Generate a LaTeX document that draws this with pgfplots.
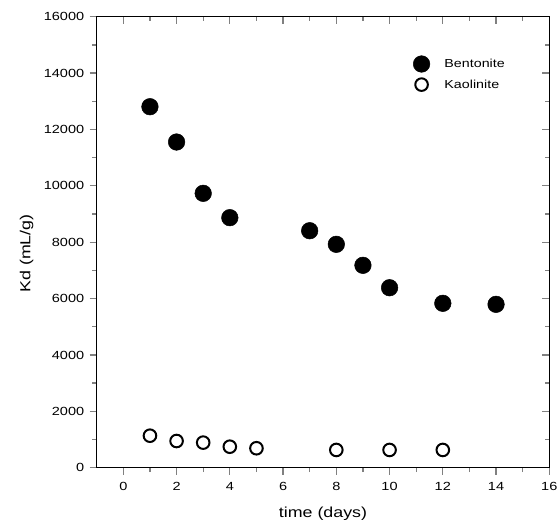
\documentclass[border=0pt]{standalone}
\usepackage{pgfplots}
\pgfplotsset{compat=1.18}
\usepackage{fontspec}
\setmainfont{Liberation Sans}[FakeStretch=1.23]
\begin{document}
\begin{tikzpicture}
\path[use as bounding box] (-96.7bp,-58.3bp) rectangle (460.3bp,467.7bp);
\pgfplotsset{
  common/.style={
    width=452.6bp, height=451bp, scale only axis,
    at={(0,0)}, anchor=south west,
    xmin=-1, xmax=16, ymin=0, ymax=16000,
    xtick={0,2,...,16}, ytick={0,2000,...,16000},
    scaled ticks=false,
    minor x tick num=1, minor y tick num=1,
    axis line style={line width=1.3bp},
    major tick style={line width=1.3bp},
    minor tick style={line width=1.3bp},
    major tick length=7bp, minor tick length=4.5bp,
    /pgf/number format/assume math mode=true,
    /pgf/number format/1000 sep={},
    tick label style={font=\fontsize{11.8bp}{13bp}\selectfont},
  }
}
\begin{axis}[common,
  tick align=outside,
  xtick pos=bottom, ytick pos=left,
  x tick label style={yshift=-4bp},
  y tick label style={xshift=-2bp},
  xlabel={time (days)}, ylabel={Kd (mL/g)},
  label style={font=\fontsize{14.5bp}{17bp}\selectfont},
  x label style={at={(axis description cs:0.5,-0.1027)}, anchor=center},
  y label style={at={(axis description cs:-0.155,0.475)}, anchor=center, rotate=0},
  legend style={draw=none, fill=none, at={(axis description cs:0.699,0.9135)}, anchor=north west,
    inner sep=0pt, outer sep=0pt, row sep=6bp, column sep=0bp,
    font=\fontsize{11.6bp}{13bp}\selectfont,
    nodes={inner sep=0pt, outer sep=0pt}},
  legend cell align=left,
  legend image code/.code={\draw[#1] plot coordinates {(8.3bp,0bp)}; \path (0bp,0bp) (31bp,0bp);},
]
\addplot[only marks, mark=*, mark size=8.3bp, mark options={fill=black, draw=black, line width=0.5bp}]
  coordinates {(1,12806) (2,11554) (3,9734) (4,8870) (7,8407) (8,7925) (9,7180) (10,6385) (12,5832) (14,5796)};
\addlegendentry{Bentonite}
\addplot[only marks, mark=o, mark size=6.3bp, mark options={draw=black, line width=2bp}]
  coordinates {(1,1135) (2,947) (3,890) (4,745) (5,690) (8,630) (10,630) (12,630)};
\addlegendentry{Kaolinite}
\end{axis}
\begin{axis}[common,
  tick align=inside,
  xtick pos=top, ytick pos=right,
  xticklabels={}, yticklabels={},
]
\end{axis}
\end{tikzpicture}
\end{document}
